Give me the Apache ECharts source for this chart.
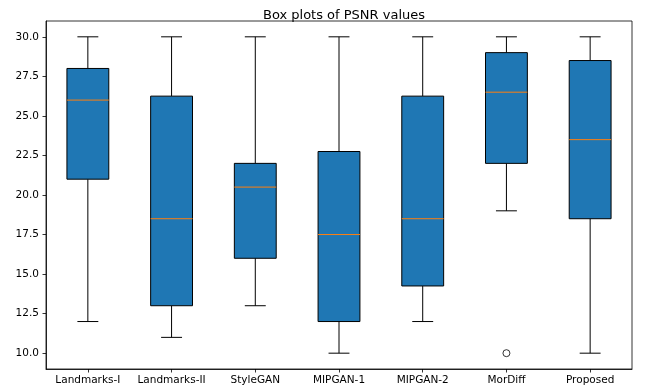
<!DOCTYPE html>
<html>
<head>
<meta charset="utf-8">
<script src="https://cdn.jsdelivr.net/npm/echarts@6/dist/echarts.min.js"></script>
<style>html,body{margin:0;padding:0;background:#fff;}#c{width:658px;height:392px;}</style>
</head>
<body>
<div id="c"></div>
<script>
const categories = ['Landmarks-I', 'Landmarks-II', 'StyleGAN', 'MIPGAN-1', 'MIPGAN-2', 'MorDiff', 'Proposed'];
const mins    = [12, 11, 13, 10, 12, 19, 10];
const q1s     = [21, 13, 16, 12, 14.25, 22, 18.5];
const medians = [26, 18.5, 20.5, 17.5, 18.5, 26.5, 23.5];
const q3s     = [28, 26.25, 22, 22.75, 26.25, 29, 28.5];
const maxs    = [30, 30, 30, 30, 30, 30, 30];
const outliers = [[5, 10]];
const yTicks = [10, 12.5, 15, 17.5, 20, 22.5, 25, 27.5, 30];

const boxData = categories.map((c, i) => [i, mins[i], q1s[i], medians[i], q3s[i], maxs[i]]);

const chart = echarts.init(document.getElementById('c'), null, {renderer: 'canvas'});
const font = 'DejaVu Sans';
chart.setOption({
  animation: false,
  backgroundColor: '#fff',
  title: {
    text: 'Box plots of PSNR values',
    left: 339, top: 4, textAlign: 'center',
    textStyle: {fontFamily: font, fontSize: 13, fontWeight: 'normal', color: '#000'}
  },
  grid: {left: 46, top: 21, width: 586, height: 348, show: true, borderColor: '#000', borderWidth: 0.8, backgroundColor: 'transparent'},
  xAxis: {
    type: 'category', data: categories, boundaryGap: true,
    axisLine: {show: true, lineStyle: {color: '#000', width: 0.8}},
    axisTick: {show: true, alignWithLabel: true, length: 3.5, inside: false, lineStyle: {color: '#000', width: 0.8}},
    axisLabel: {fontFamily: font, fontSize: 10.5, color: '#000', margin: 6, interval: 0},
    splitLine: {show: false}
  },
  yAxis: {
    type: 'value', min: 9, max: 31,
    axisLine: {show: true, lineStyle: {color: '#000', width: 0.8}},
    axisTick: {show: true, length: 3.5, customValues: yTicks, lineStyle: {color: '#000', width: 0.8}},
    axisLabel: {fontFamily: font, fontSize: 10.5, color: '#000', margin: 7, customValues: yTicks, formatter: v => Number(v).toFixed(1)},
    splitLine: {show: false}
  },
  series: [
    {
      type: 'custom',
      data: boxData,
      encode: {x: 0, y: [1, 2, 3, 4, 5]},
      renderItem: function (params, api) {
        const x = api.value(0);
        const pMin = api.coord([x, api.value(1)]);
        const pQ1 = api.coord([x, api.value(2)]);
        const pMed = api.coord([x, api.value(3)]);
        const pQ3 = api.coord([x, api.value(4)]);
        const pMax = api.coord([x, api.value(5)]);
        const bw = api.size([1, 0])[0] * 0.5;
        const cw = bw * 0.5;
        const cx = pMin[0];
        const line = (x1, y1, x2, y2, color) => ({
          type: 'line', shape: {x1, y1, x2, y2},
          style: {stroke: color || '#000', lineWidth: 1}
        });
        return {
          type: 'group',
          children: [
            line(cx, pMin[1], cx, pQ1[1]),
            line(cx, pQ3[1], cx, pMax[1]),
            line(cx - cw / 2, pMin[1], cx + cw / 2, pMin[1]),
            line(cx - cw / 2, pMax[1], cx + cw / 2, pMax[1]),
            {type: 'rect', shape: {x: cx - bw / 2, y: pQ3[1], width: bw, height: pQ1[1] - pQ3[1]},
             style: {fill: '#1f77b4', stroke: '#000', lineWidth: 1}},
            line(cx - bw / 2, pMed[1], cx + bw / 2, pMed[1], '#ff7f0e')
          ]
        };
      }
    },
    {
      type: 'scatter',
      data: outliers,
      symbol: 'circle', symbolSize: 7,
      itemStyle: {color: 'rgba(0,0,0,0)', borderColor: '#000', borderWidth: 1}
    }
  ]
});
</script>
</body>
</html>
